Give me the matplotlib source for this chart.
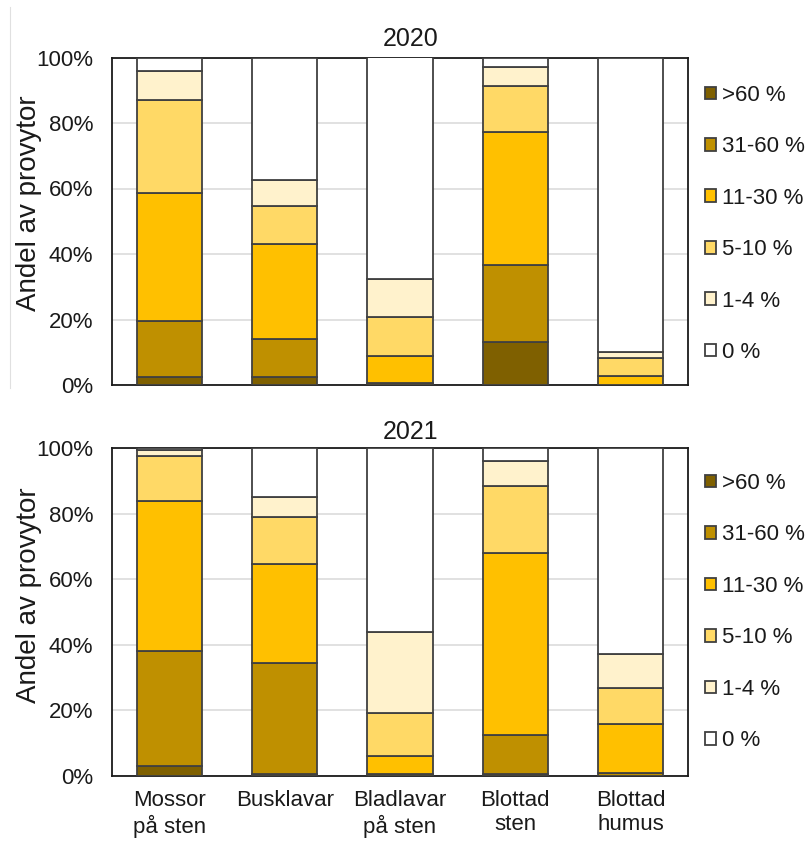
import matplotlib
matplotlib.use("Agg")
import matplotlib.pyplot as plt
from matplotlib.patches import Patch
from matplotlib.lines import Line2D
import numpy as np

plt.rcParams['font.family'] = ['Liberation Sans', 'DejaVu Sans']

categories = ["Mossor\npå sten", "Busklavar", "Bladlavar\npå sten", "Blottad\nsten", "Blottad\nhumus"]
classes = [">60 %", "31-60 %", "11-30 %", "5-10 %", "1-4 %", "0 %"]
colors = ["#7F6000", "#BF9000", "#FFC000", "#FFD966", "#FFF2CC", "#FFFFFF"]

# share of plots (%) per cover class, bottom to top: >60, 31-60, 11-30, 5-10, 1-4, 0
mossor_2020 = [2.3, 17.3, 38.9, 28.5, 8.9, 4.1]
busklavar_2020 = [2.5, 11.5, 29.1, 11.7, 7.8, 37.4]
bladlavar_2020 = [0.0, 0.6, 8.4, 11.7, 11.6, 67.7]
blottad_sten_2020 = [13.2, 23.4, 40.7, 14.1, 5.6, 3.0]
blottad_humus_2020 = [0.0, 0.0, 2.8, 5.3, 2.1, 89.8]

mossor_2021 = [3.1, 35.0, 45.8, 13.9, 1.7, 0.5]
busklavar_2021 = [0.7, 33.8, 30.1, 14.4, 6.0, 15.0]
bladlavar_2021 = [0.0, 0.5, 5.6, 13.0, 24.7, 56.2]
blottad_sten_2021 = [0.7, 11.7, 55.6, 20.4, 7.7, 3.9]
blottad_humus_2021 = [0.0, 1.0, 14.8, 11.1, 10.3, 62.8]

years = ["2020", "2021"]
data = {
    "2020": [mossor_2020, busklavar_2020, bladlavar_2020, blottad_sten_2020, blottad_humus_2020],
    "2021": [mossor_2021, busklavar_2021, bladlavar_2021, blottad_sten_2021, blottad_humus_2021],
}
yticks = [0, 20, 40, 60, 80, 100]
ytick_labels = ["0%", "20%", "40%", "60%", "80%", "100%"]

W, H = 807, 841
fig = plt.figure(figsize=(W / 100, H / 100), dpi=100)

text_color = "#1a1a1a"
edge = "#404040"

# panel geometry in pixels: (top, bottom)
panels = [(57.5, 385.0), (448.3, 776.0)]
left_px, right_px = 112.0, 688.0
title_y = [39, 432]
ylabel_center = [0.556, 0.552]
legend_center = [0.492, 0.50]

x = np.arange(len(categories))
for i, year in enumerate(years):
    top, bottom = panels[i]
    ax = fig.add_axes([left_px / W, 1 - bottom / H, (right_px - left_px) / W, (bottom - top) / H])
    vals = np.array(data[year])  # shape (categories, classes)
    base = np.zeros(len(categories))
    for k in range(len(classes)):
        ax.bar(x, vals[:, k], bottom=base, width=0.565, color=colors[k],
               edgecolor=edge, linewidth=1.3, zorder=3)
        base += vals[:, k]
    ax.set_xlim(-0.5, len(categories) - 0.5)
    ax.set_ylim(0, 100)
    ax.set_yticks(yticks)
    ax.set_yticklabels(ytick_labels)
    ax.yaxis.grid(True, color="#d9d9d9", linewidth=1.1, zorder=0)
    ax.set_axisbelow(True)
    ax.tick_params(axis='y', length=0, pad=13.5, labelsize=16, labelcolor=text_color)
    if i == 1:
        ax.set_xticks(x)
        ax.set_xticklabels(categories, fontsize=16, color=text_color, linespacing=1.2)
        ax.tick_params(axis='x', length=0, pad=10)
    else:
        ax.set_xticks([])
    for s in ax.spines.values():
        s.set_color("#1a1a1a")
        s.set_linewidth(1.3)
    ax.set_ylabel("Andel av provytor", fontsize=20, color=text_color)
    ax.yaxis.set_label_coords((42 - left_px) / (right_px - left_px), ylabel_center[i])

    handles = [Patch(facecolor=colors[k], edgecolor=edge, linewidth=1.3) for k in range(len(classes))]
    leg = ax.legend(handles, classes, loc='center left',
                    bbox_to_anchor=((705 - left_px) / (right_px - left_px), legend_center[i]),
                    frameon=False, fontsize=16, handlelength=0.5, handleheight=0.5,
                    handletextpad=0.27, labelspacing=1.37, borderpad=0, borderaxespad=0)
    for t in leg.get_texts():
        t.set_color(text_color)

    fig.text(410.5 / W, 1 - title_y[i] / H, year, ha='center', va='center',
             fontsize=18, color=text_color)

# faint left border of the upper chart
fig.add_artist(Line2D([10 / W, 10 / W], [1 - 7 / H, 1 - 388 / H], color="#e0e0e0",
                      linewidth=0.8, transform=fig.transFigure))

fig.savefig("out.png", dpi=100, facecolor="white")
